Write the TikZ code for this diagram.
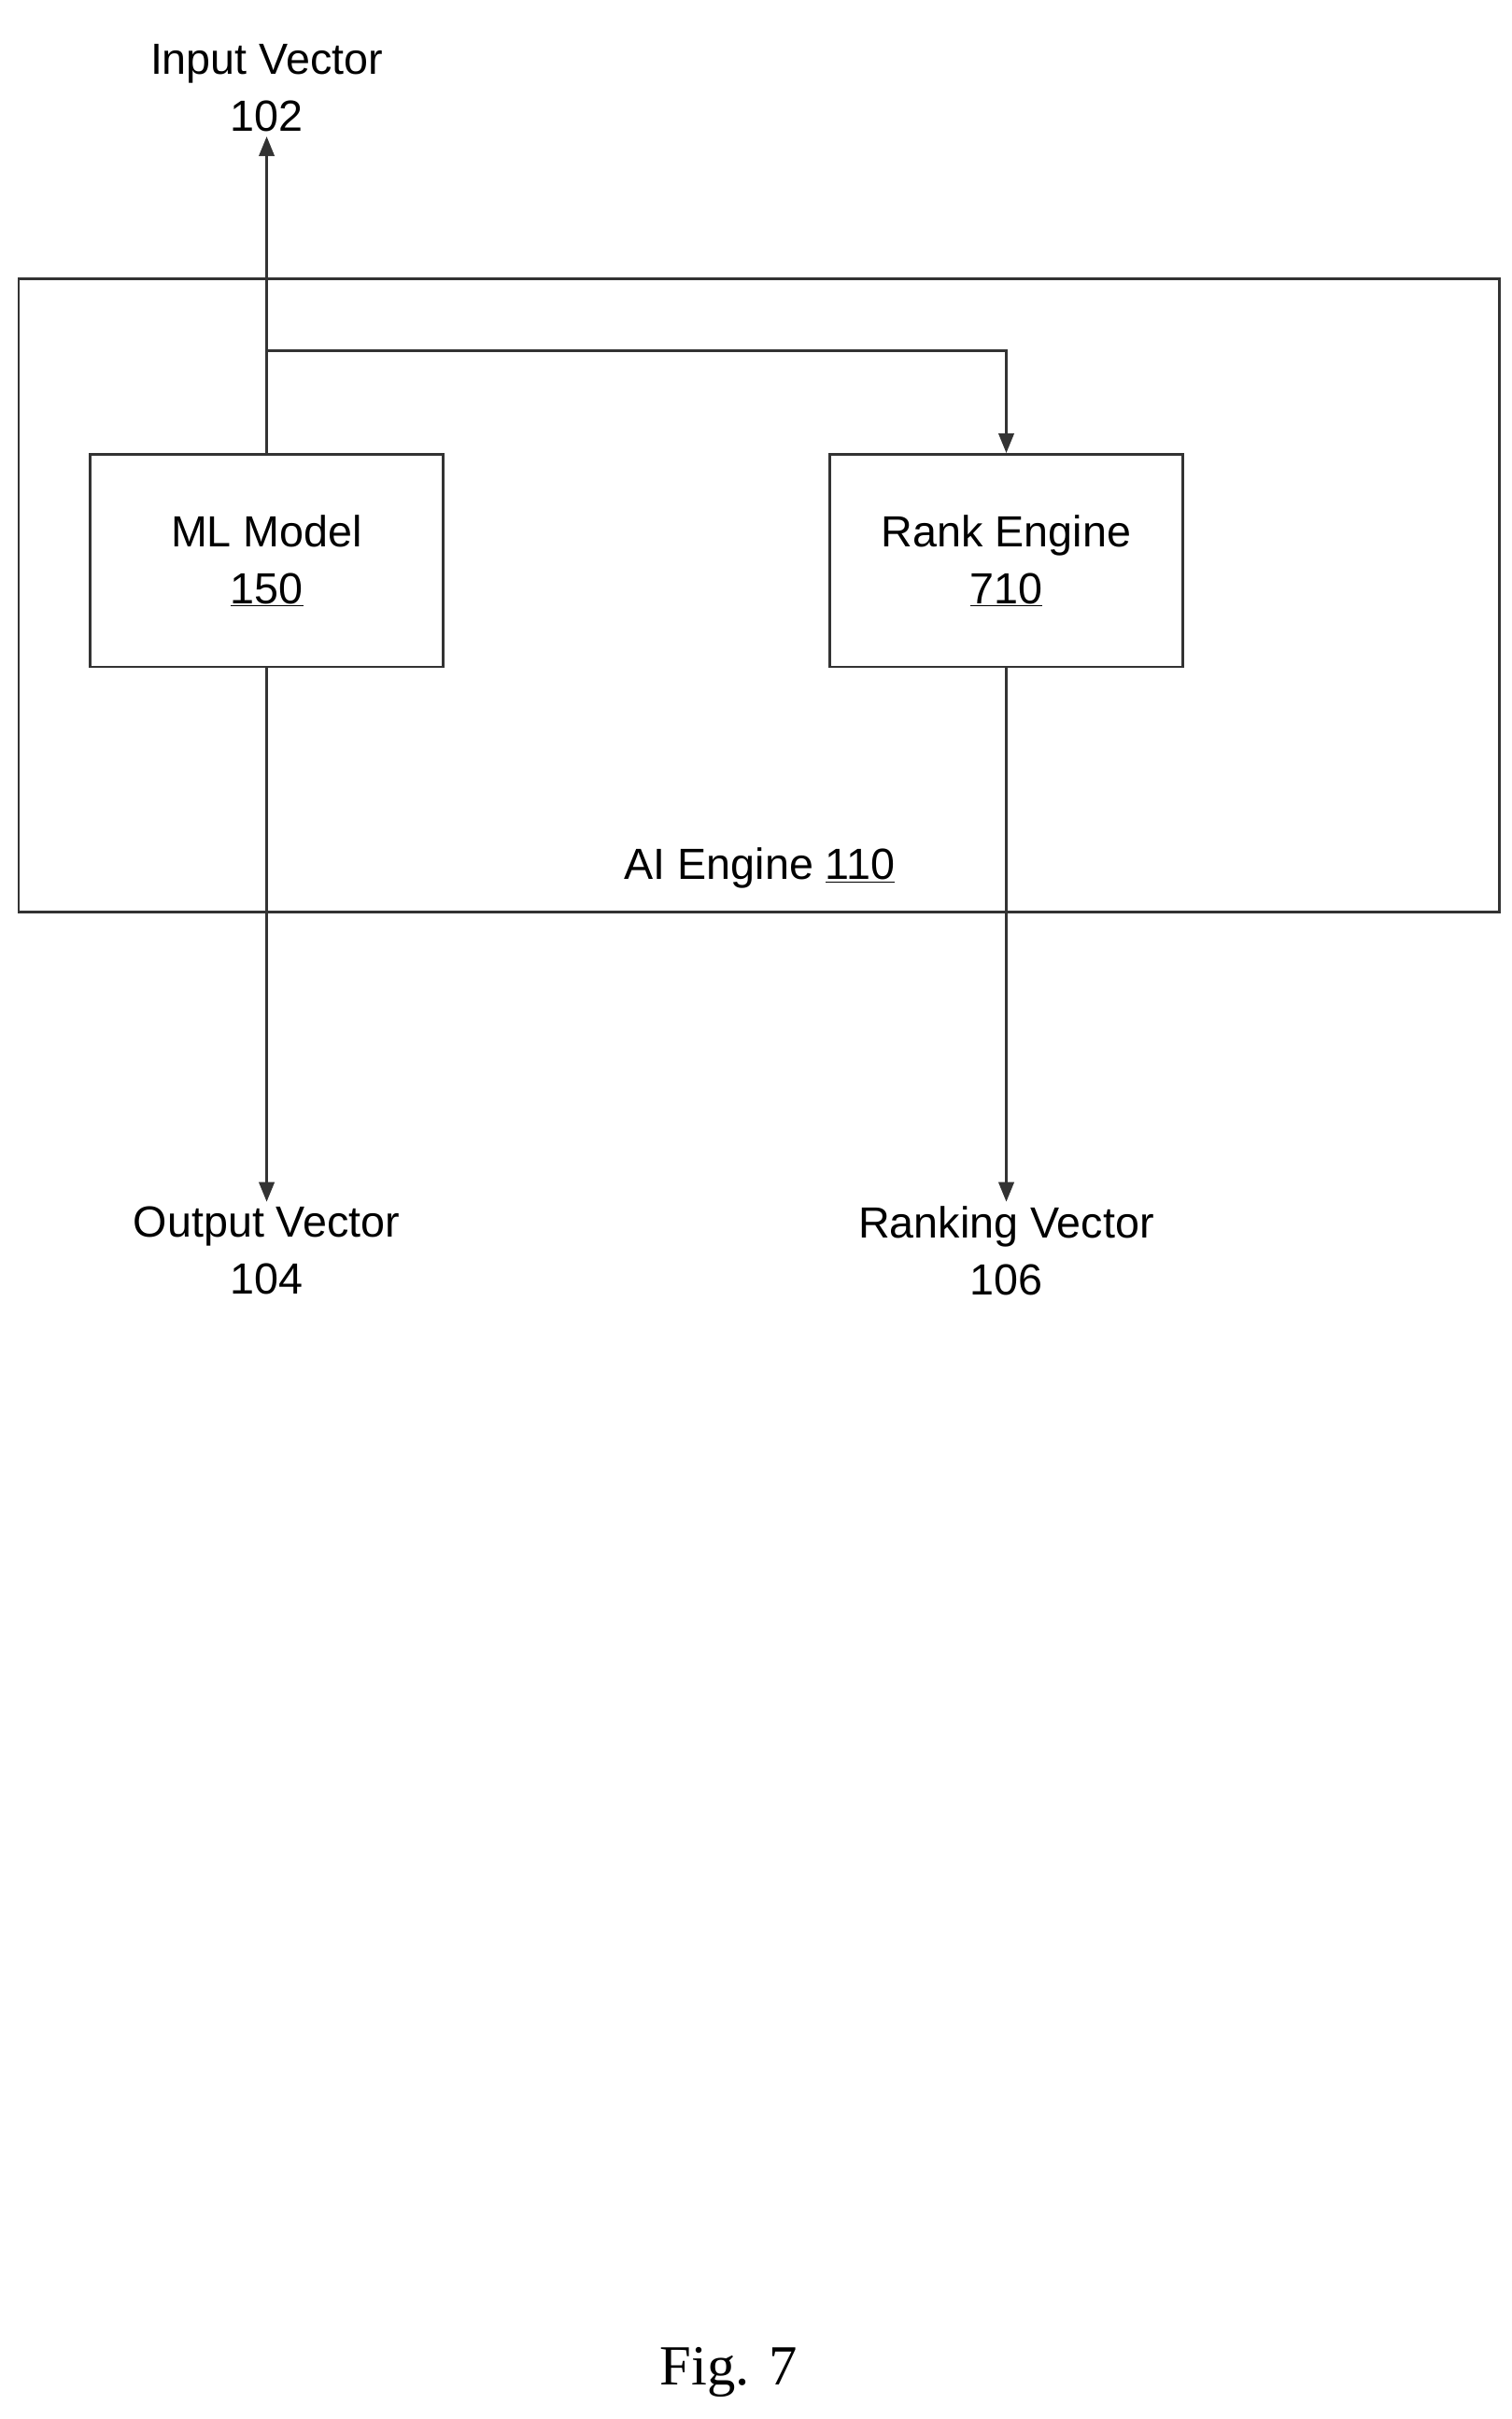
\documentclass[tikz,border=0pt]{standalone}
\usepackage{fontspec}
\setmainfont{Liberation Sans}
\usetikzlibrary{positioning, arrows.meta}
\begin{document}
\begin{tikzpicture}[x=0.05cm, y=-0.05cm,
    line width=2.4pt, draw=black!80,
    box/.style={draw, minimum width=11.4cm, minimum height=6.85cm, align=center, inner sep=0pt},
    lbl/.style={align=center, font=\fontsize{40}{52}\selectfont},
    flow/.style={-{Triangle[length=18pt, width=14pt]}}]
    \useasboundingbox (0,0) rectangle (975,1560);
    \draw (12,180) rectangle (967,588);
    \node[box, lbl] (ML Model)    at (172,361.5) {ML Model\\\underline{150}};
    \node[box, lbl] (Rank Engine) at (649,361.5) {Rank Engine\\\underline{710}};
    \node[lbl] (AI Engine) at (490,560) {AI Engine \underline{110}};

    \node[lbl, anchor=south] (Input Vector)   at (172,88)  {Input Vector\\102};
    \node[lbl, anchor=north] (Output Vector)  at (172,775) {Output Vector\\104};
    \node[lbl, anchor=north] (Ranking Vector) at (649,775) {Ranking Vector\\106};
    \coordinate (branch) at (172,226);

    \draw[flow] (ML Model.north) -- (Input Vector.south);
    \draw[flow] (branch) -| (Rank Engine.north);
    \draw[flow] (ML Model.south) -- (Output Vector.north);
    \draw[flow] (Rank Engine.south) -- (Ranking Vector.north);

    \node[font=\fontsize{52}{60}\selectfont\bfseries\itshape\setmainfont{Liberation Serif}] (Fig) at (470,1530) {Fig. 7};
\end{tikzpicture}
\end{document}
